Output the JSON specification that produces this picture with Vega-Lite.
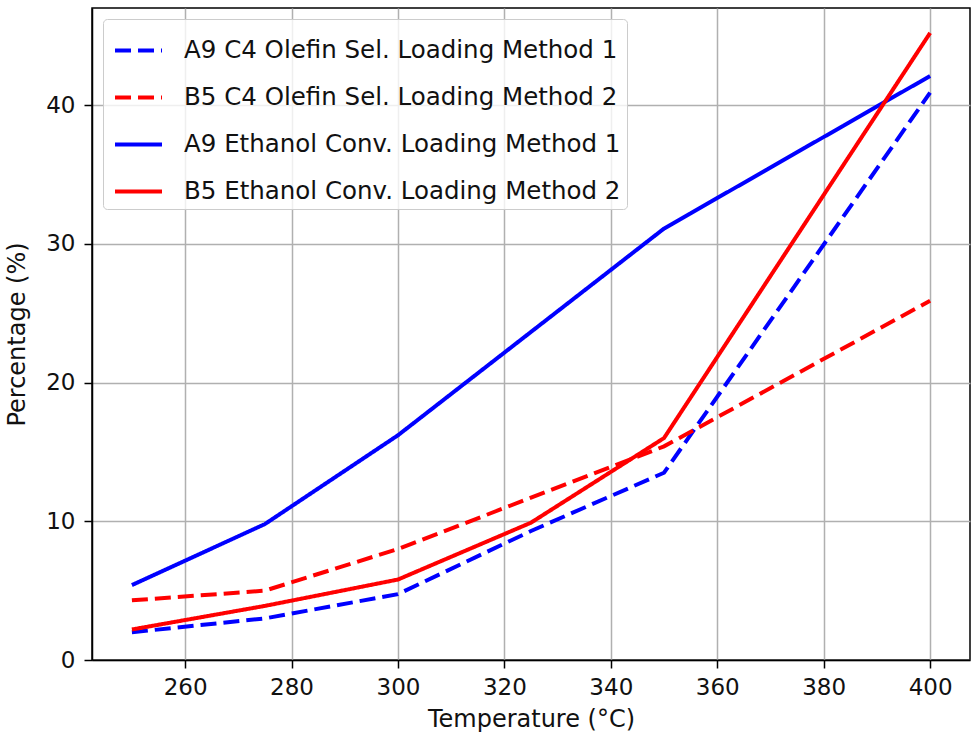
{
  "$schema": "https://vega.github.io/schema/vega-lite/v6.json",
  "autosize": {"type": "none"},
  "width": 878,
  "height": 652,
  "padding": {"left": 92, "top": 8, "right": 5, "bottom": 81},
  "background": "white",
  "config": {
    "font": "DejaVu Sans",
    "view": {"stroke": "black", "strokeWidth": 1.5},
    "axis": {
      "labelFont": "DejaVu Sans",
      "titleFont": "DejaVu Sans",
      "labelFontSize": 23,
      "titleFontSize": 24,
      "labelColor": "#111",
      "titleColor": "#111",
      "titleFontWeight": "normal",
      "domainColor": "black",
      "domainWidth": 1.5,
      "tickColor": "black",
      "tickWidth": 1.5,
      "tickSize": 8,
      "gridColor": "#b0b0b0",
      "gridWidth": 1.5
    }
  },
  "data": {
    "values": [
      {"series": "A9 C4 Olefin Sel. Loading Method 1", "temp": 250, "value": 2.0},
      {"series": "A9 C4 Olefin Sel. Loading Method 1", "temp": 275, "value": 3.0},
      {"series": "A9 C4 Olefin Sel. Loading Method 1", "temp": 300, "value": 4.75},
      {"series": "A9 C4 Olefin Sel. Loading Method 1", "temp": 325, "value": 9.3},
      {"series": "A9 C4 Olefin Sel. Loading Method 1", "temp": 350, "value": 13.5},
      {"series": "A9 C4 Olefin Sel. Loading Method 1", "temp": 400, "value": 40.9},
      {"series": "B5 C4 Olefin Sel. Loading Method 2", "temp": 250, "value": 4.3},
      {"series": "B5 C4 Olefin Sel. Loading Method 2", "temp": 275, "value": 5.0},
      {"series": "B5 C4 Olefin Sel. Loading Method 2", "temp": 300, "value": 8.0},
      {"series": "B5 C4 Olefin Sel. Loading Method 2", "temp": 350, "value": 15.4},
      {"series": "B5 C4 Olefin Sel. Loading Method 2", "temp": 400, "value": 25.9},
      {"series": "A9 Ethanol Conv. Loading Method 1", "temp": 250, "value": 5.4},
      {"series": "A9 Ethanol Conv. Loading Method 1", "temp": 275, "value": 9.8},
      {"series": "A9 Ethanol Conv. Loading Method 1", "temp": 300, "value": 16.2},
      {"series": "A9 Ethanol Conv. Loading Method 1", "temp": 350, "value": 31.1},
      {"series": "A9 Ethanol Conv. Loading Method 1", "temp": 400, "value": 42.1},
      {"series": "B5 Ethanol Conv. Loading Method 2", "temp": 250, "value": 2.2},
      {"series": "B5 Ethanol Conv. Loading Method 2", "temp": 275, "value": 3.9},
      {"series": "B5 Ethanol Conv. Loading Method 2", "temp": 300, "value": 5.8},
      {"series": "B5 Ethanol Conv. Loading Method 2", "temp": 325, "value": 9.9},
      {"series": "B5 Ethanol Conv. Loading Method 2", "temp": 350, "value": 16.0},
      {"series": "B5 Ethanol Conv. Loading Method 2", "temp": 400, "value": 45.2}
    ]
  },
  "mark": {"type": "line", "strokeWidth": 4, "strokeCap": "butt"},
  "encoding": {
    "x": {
      "field": "temp",
      "type": "quantitative",
      "title": "Temperature (°C)",
      "scale": {"domain": [242.5, 407.5], "nice": false, "zero": false},
      "axis": {"values": [260, 280, 300, 320, 340, 360, 380, 400], "labelPadding": 8, "titlePadding": 8}
    },
    "y": {
      "field": "value",
      "type": "quantitative",
      "title": "Percentage (%)",
      "scale": {"domain": [0, 47], "nice": false},
      "axis": {"values": [0, 10, 20, 30, 40], "labelPadding": 9, "titlePadding": 16}
    },
    "color": {
      "field": "series",
      "type": "nominal",
      "scale": {
        "domain": ["A9 C4 Olefin Sel. Loading Method 1", "B5 C4 Olefin Sel. Loading Method 2", "A9 Ethanol Conv. Loading Method 1", "B5 Ethanol Conv. Loading Method 2"],
        "range": ["#0000ff", "#ff0000", "#0000ff", "#ff0000"]
      },
      "legend": {
        "title": null,
        "orient": "none",
        "legendX": 11,
        "legendY": 11,
        "symbolType": "stroke",
        "symbolSize": 2209,
        "symbolStrokeWidth": 4,
        "labelFontSize": 24.5,
        "labelFont": "DejaVu Sans",
        "labelColor": "#111",
        "labelOffset": 20,
        "padding": 6,
        "rowPadding": 10,
        "symbolOffset": 4,
        "strokeColor": "#cccccc",
        "fillColor": "rgba(255,255,255,0.8)",
        "cornerRadius": 4,
        "labelLimit": 0
      }
    },
    "strokeDash": {
      "field": "series",
      "type": "nominal",
      "scale": {
        "domain": ["A9 C4 Olefin Sel. Loading Method 1", "B5 C4 Olefin Sel. Loading Method 2", "A9 Ethanol Conv. Loading Method 1", "B5 Ethanol Conv. Loading Method 2"],
        "range": [[16, 7], [16, 7], [1, 0], [1, 0]]
      },
      "legend": null
    }
  }
}
